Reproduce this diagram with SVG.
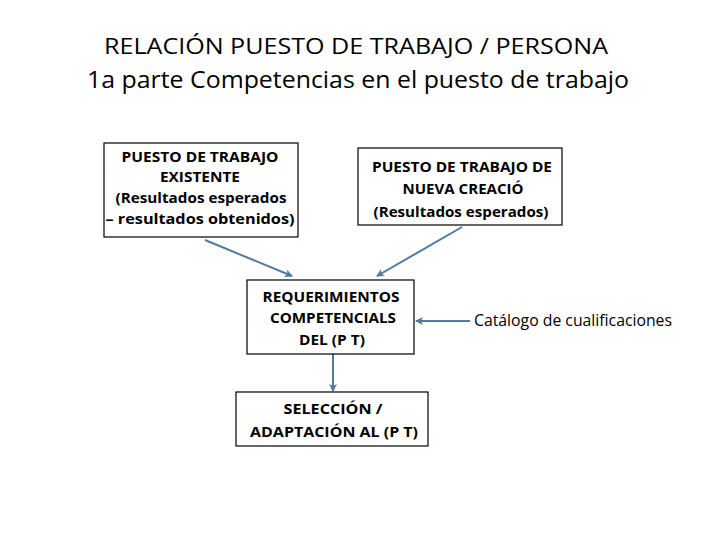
<svg xmlns="http://www.w3.org/2000/svg" width="720" height="540" viewBox="0 0 720 540">
<style>
.t1{font-family:"Open Sans","Liberation Sans",sans-serif;font-size:22px;fill:#000;text-anchor:middle}
.t2{font-family:"Open Sans","Liberation Sans",sans-serif;font-size:23px;fill:#000;text-anchor:middle}
.b{font-family:"Open Sans","Liberation Sans",sans-serif;font-size:15px;font-weight:bold;fill:#000;text-anchor:middle}
.r{font-family:"Open Sans","Liberation Sans",sans-serif;font-size:16px;fill:#000}
.box{fill:#fff;stroke:#000;stroke-width:1.2}
.c{stroke:#4f7aa6;stroke-width:2;fill:none;marker-end:url(#ah)}
</style>
<defs>
<marker id="ah" markerWidth="8" markerHeight="8" refX="7" refY="4" orient="auto" markerUnits="userSpaceOnUse">
<path d="M0,0 L8,4 L0,8 L2,4 Z" fill="#4f7aa6"/>
</marker>
</defs>
<rect width="720" height="540" fill="#fff"/>
<text class="t1" x="356" y="54" textLength="504" lengthAdjust="spacingAndGlyphs">RELACIÓN PUESTO DE TRABAJO / PERSONA</text>
<text class="t2" x="358" y="88" textLength="542" lengthAdjust="spacingAndGlyphs">1a parte Competencias en el puesto de trabajo</text>
<g id="connectors">
<line class="c" x1="205" y1="240" x2="292" y2="276"/>
<line class="c" x1="462" y1="227" x2="377" y2="276"/>
<line class="c" x1="333" y1="354" x2="333" y2="391"/>
<line class="c" x1="470" y1="321" x2="416" y2="321"/>
</g>
<g id="n1">
<rect class="box" x="104" y="143" width="194" height="94"/>
<text class="b" x="200" y="162" textLength="157" lengthAdjust="spacingAndGlyphs">PUESTO DE TRABAJO</text>
<text class="b" x="200" y="182" textLength="80" lengthAdjust="spacingAndGlyphs">EXISTENTE</text>
<text class="b" x="201" y="203" textLength="171" lengthAdjust="spacingAndGlyphs">(Resultados esperados</text>
<text class="b" x="200" y="224" textLength="189" lengthAdjust="spacingAndGlyphs">– resultados obtenidos)</text>
</g>
<g id="n2">
<rect class="box" x="358" y="148" width="204" height="77"/>
<text class="b" x="462" y="172" textLength="180" lengthAdjust="spacingAndGlyphs">PUESTO DE TRABAJO DE</text>
<text class="b" x="463" y="194" textLength="121" lengthAdjust="spacingAndGlyphs">NUEVA CREACIÓ</text>
<text class="b" x="461" y="217" textLength="175" lengthAdjust="spacingAndGlyphs">(Resultados esperados)</text>
</g>
<g id="n3">
<rect class="box" x="247" y="280" width="167" height="74"/>
<text class="b" x="331" y="302" textLength="137" lengthAdjust="spacingAndGlyphs">REQUERIMIENTOS</text>
<text class="b" x="333" y="323" textLength="126" lengthAdjust="spacingAndGlyphs">COMPETENCIALS</text>
<text class="b" x="332" y="345" textLength="66" lengthAdjust="spacingAndGlyphs">DEL (P T)</text>
</g>
<g id="n4">
<rect class="box" x="236" y="392" width="192" height="54"/>
<text class="b" x="333" y="414" textLength="99" lengthAdjust="spacingAndGlyphs">SELECCIÓN /</text>
<text class="b" x="334" y="437" textLength="168" lengthAdjust="spacingAndGlyphs">ADAPTACIÓN AL (P T)</text>
</g>
<text class="r" x="474" y="326" textLength="198" lengthAdjust="spacingAndGlyphs">Catálogo de cualificaciones</text>
</svg>
